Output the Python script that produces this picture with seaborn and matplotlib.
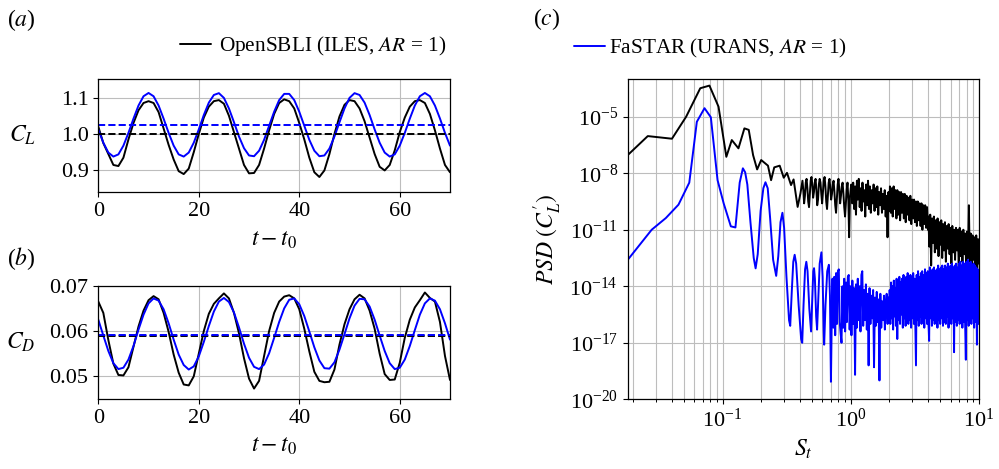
import numpy as np
import matplotlib
matplotlib.use("Agg")
import matplotlib.pyplot as plt
import seaborn as sns
from matplotlib.ticker import LogLocator, NullLocator, FixedLocator
from matplotlib.lines import Line2D

# ---------------- data ----------------
time = np.arange(0, 71)

cl_opensbli = [1.020, 0.975, 0.945, 0.915, 0.912, 0.935, 0.985, 1.030, 1.065, 1.085,
               1.090, 1.085, 1.060, 1.015, 0.970, 0.930, 0.898, 0.890, 0.905, 0.950,
               1.000, 1.045, 1.075, 1.090, 1.093, 1.083, 1.050, 1.005, 0.960, 0.915,
               0.892, 0.893, 0.915, 0.960, 1.010, 1.055, 1.085, 1.095, 1.090, 1.070,
               1.030, 0.985, 0.935, 0.895, 0.882, 0.900, 0.945, 1.000, 1.048, 1.080,
               1.093, 1.090, 1.070, 1.035, 0.990, 0.945, 0.910, 0.900, 0.915, 0.955,
               1.005, 1.045, 1.075, 1.090, 1.093, 1.085, 1.055, 1.010, 0.960, 0.915,
               0.895]
cl_fastar = [1.0125, 0.976, 0.949, 0.938, 0.944, 0.968, 1.003, 1.042, 1.078, 1.1035,
             1.1125, 1.1035, 1.078, 1.042, 1.003, 0.968, 0.944, 0.938, 0.949, 0.976,
             1.0125, 1.052, 1.086, 1.107, 1.112, 1.099, 1.070, 1.0325, 0.993, 0.961,
             0.941, 0.939, 0.954, 0.984, 1.0225, 1.061, 1.093, 1.110, 1.110, 1.093,
             1.061, 1.0225, 0.984, 0.954, 0.939, 0.941, 0.960, 0.993, 1.032, 1.070,
             1.099, 1.112, 1.107, 1.086, 1.052, 1.0125, 0.976, 0.949, 0.938, 0.944,
             0.968, 1.003, 1.042, 1.078, 1.1035, 1.1125, 1.1035, 1.078, 1.0425, 1.003,
             0.968]
cd_opensbli = [0.0665, 0.0640, 0.0580, 0.0528, 0.0503, 0.0502, 0.0520, 0.0565, 0.0610, 0.0645,
               0.0668, 0.0677, 0.0670, 0.0640, 0.0598, 0.0548, 0.0508, 0.0482, 0.0480, 0.0500,
               0.0550, 0.0600, 0.0638, 0.0660, 0.0672, 0.0683, 0.0672, 0.0640, 0.0595, 0.0540,
               0.0495, 0.0473, 0.0490, 0.0545, 0.0600, 0.0640, 0.0665, 0.0676, 0.0679, 0.0672,
               0.0648, 0.0605, 0.0555, 0.0510, 0.0490, 0.0487, 0.0488, 0.0515, 0.0570, 0.0615,
               0.0648, 0.0670, 0.0680, 0.0672, 0.0645, 0.0605, 0.0550, 0.0505, 0.0492, 0.0493,
               0.0530, 0.0585, 0.0625, 0.0652, 0.0668, 0.0685, 0.0673, 0.0665, 0.0620, 0.0545,
               0.0492]
cd_fastar = [0.0625, 0.0590, 0.0556, 0.0529, 0.0516, 0.0519, 0.0537, 0.0567, 0.0603, 0.0636,
             0.0661, 0.0672, 0.0667, 0.0648, 0.0617, 0.0581, 0.0548, 0.0525, 0.0515, 0.0522,
             0.0544, 0.0576, 0.0611, 0.0643, 0.0665, 0.0673, 0.0664, 0.0641, 0.0608, 0.0572,
             0.0541, 0.0521, 0.0516, 0.0526, 0.0551, 0.0585, 0.0620, 0.0650, 0.0669, 0.0672,
             0.0659, 0.0633, 0.0599, 0.0564, 0.0535, 0.0518, 0.0517, 0.0531, 0.0559, 0.0593,
             0.0628, 0.0656, 0.0671, 0.0670, 0.0654, 0.0625, 0.0590, 0.0556, 0.0529, 0.0516,
             0.0519, 0.0537, 0.0567, 0.0602, 0.0636, 0.0661, 0.0672, 0.0667, 0.0648, 0.0617,
             0.0581]
cl_mean_opensbli = 0.999
cl_mean_fastar = 1.0245
cd_mean_opensbli = 0.0588
cd_mean_fastar = 0.0592

# PSD (log10 values)
psd_black_f_low = [0.0182, 0.0261, 0.0403, 0.052, 0.067, 0.079, 0.093, 0.107, 0.118, 0.133,
                   0.148, 0.160, 0.173, 0.186, 0.200, 0.226, 0.239, 0.253, 0.279, 0.300,
                   0.318, 0.342, 0.358, 0.385, 0.405]
psd_black_low = [-7.04, -6.03, -6.17, -5.0, -3.49, -3.35, -4.47, -7.13, -6.24, -6.68,
                 -5.62, -5.70, -7.04, -7.80, -7.30, -7.60, -8.37, -7.69, -7.60, -8.24,
                 -7.98, -8.63, -8.33, -9.79, -9.07]
psd_black_a = [-8.4, -8.9, -9.6, -9.2, -8.5, -8.3, -8.8, -9.5, -9.8, -9.1,
               -8.4, -8.2, -8.6, -9.3, -9.0, -8.5, -8.3, -8.9, -9.7, -9.4,
               -8.6, -8.3, -8.5, -9.1, -9.6, -9.0, -8.4, -8.2, -8.7, -9.5,
               -9.9, -9.2, -8.5, -8.3, -8.8, -9.4, -9.1, -8.6, -8.4, -9.0,
               -9.7, -10.1, -9.3, -8.6, -8.3, -8.9, -9.6, -9.2, -8.7, -8.5,
               -9.1, -9.8, -10.3, -9.6, -8.9, -8.5, -9.4, -11.4, -9.3, -8.8]
psd_black_b = [-8.6, -9.6, -8.5, -9.9, -8.7, -10.2, -8.4, -9.4, -8.3, -9.8,
               -8.8, -10.0, -8.5, -9.5, -8.9, -10.3, -8.6, -9.7, -8.4, -9.9,
               -8.7, -10.1, -8.9, -9.6, -8.6, -10.0, -8.8, -9.8, -8.7, -10.2,
               -9.0, -9.7, -8.8, -10.1, -9.1, -9.9, -8.9, -10.3, -9.2, -11.4,
               -9.0, -10.0]
psd_black_c = [-8.7, -10.1, -8.8, -10.3, -8.7, -9.9, -8.9, -10.4, -8.9, -10.2,
               -9.0, -10.5, -9.0, -10.1, -9.1, -10.4, -9.1, -10.6, -9.2, -10.2,
               -9.3, -10.5, -9.2, -10.7, -9.4, -10.4, -9.4, -10.6, -9.5, -10.8,
               -9.5, -10.5, -9.6, -10.8, -9.6, -11.0, -9.7, -10.7, -9.7, -10.9,
               -9.8, -11.0]
psd_black_d = [-10.3, -11.9, -10.2, -12.9, -10.4, -11.7, -10.3, -12.2, -10.5, -12.0,
               -10.4, -12.4, -10.6, -11.8, -10.5, -12.5, -10.7, -12.1, -10.6, -12.7,
               -10.8, -12.0, -10.7, -12.3, -10.9, -12.8, -10.8, -12.2, -11.0, -12.6,
               -10.9, -12.1, -11.0, -13.0, -10.9, -12.4, -11.1, -12.7, -11.0, -12.3,
               -11.2, -12.9, -11.1, -12.5, -9.7, -12.7, -11.2, -13.0, -11.3, -12.6,
               -11.4, -12.9, -11.3, -13.3, -11.5, -12.8]

psd_blue_f_low = [0.0182, 0.028, 0.0361, 0.0453, 0.055, 0.063, 0.0723, 0.081, 0.0914, 0.102,
                  0.116, 0.126, 0.136, 0.144, 0.150, 0.156, 0.165, 0.175, 0.181, 0.188,
                  0.198, 0.208, 0.216, 0.225, 0.235, 0.248, 0.262, 0.272, 0.283, 0.293,
                  0.302, 0.315, 0.330, 0.337, 0.347, 0.356, 0.365, 0.375, 0.392, 0.410,
                  0.418, 0.428, 0.440, 0.450, 0.460, 0.475, 0.490, 0.500, 0.510, 0.517,
                  0.525, 0.537, 0.546, 0.558, 0.572, 0.590, 0.603, 0.615, 0.620, 0.635,
                  0.655, 0.675, 0.688, 0.700, 0.712]
psd_blue_low = [-12.6, -11.0, -10.38, -9.67, -8.5, -5.27, -4.55, -5.03, -8.37, -9.6,
                -10.82, -10.88, -8.5, -7.74, -7.95, -8.6, -10.6, -12.5, -13.05, -12.3,
                -10.0, -8.8, -8.48, -8.8, -10.4, -12.6, -13.45, -12.4, -10.6, -10.1,
                -10.9, -13.5, -15.8, -16.1, -14.2, -12.7, -12.33, -12.8, -15.0, -16.8,
                -17.0, -15.0, -13.1, -12.7, -13.2, -15.2, -16.4, -14.8, -13.2, -13.04,
                -13.6, -15.6, -16.3, -14.6, -12.8, -12.2, -13.5, -16.4, -17.1, -15.0,
                -13.2, -12.86, -14.5, -19.07, -15.2]
psd_blue_b = [-13.6, -16.2, -13.5, -16.6, -13.3, -16.0, -13.2, -13.1, -15.9, -16.5,
              -17.0, -14.0, -16.2, -13.6, -16.4, -13.8, -15.9, -13.5, -13.4, -16.3,
              -14.0, -16.6, -13.7, -16.0, -14.1, -18.7, -13.9, -16.2, -13.6, -15.8,
              -14.0, -16.4, -13.4, -13.2, -16.1, -14.2, -15.8, -13.9, -16.3, -14.4,
              -18.2, -14.1, -16.0, -14.5, -15.7, -14.2, -18.3, -14.6, -16.1, -14.3,
              -15.9, -14.7, -19.0, -14.4, -16.2, -14.8, -15.8, -14.5, -16.3, -14.9,
              -14.4, -16.0, -14.6, -15.7]
psd_blue_c = [-14.2, -16.0, -13.8, -15.7, -14.0, -16.3, -13.7, -15.6, -14.1, -16.1,
              -13.6, -16.8, -13.9, -15.8, -13.5, -16.0, -13.8, -15.5, -13.6, -16.2,
              -13.4, -15.7, -13.7, -16.1, -13.5, -15.6, -13.3, -16.0, -13.6, -15.8,
              -13.4, -16.2, -13.5, -15.7, -13.3, -16.0, -13.6, -15.9, -18.2, -13.4,
              -15.8, -13.2, -16.1, -13.5, -15.6, -13.3, -16.0, -13.2, -15.8, -13.4,
              -16.2, -13.1, -15.7, -13.3, -16.0, -13.2, -15.9, -16.9, -13.0, -15.7,
              -13.2, -16.1, -13.1, -15.8, -13.0, -16.0, -13.2, -15.6, -13.1, -16.2,
              -12.9, -15.8, -13.1, -16.0, -13.0, -15.7, -12.9, -16.1, -13.1, -15.9,
              -12.9, -16.0, -13.0, -15.6, -12.8, -16.2, -13.0, -15.8, -12.9, -16.0,
              -12.8, -15.7, -13.0, -17.5, -12.9, -15.9, -12.8, -16.1, -13.0, -15.8,
              -12.8, -16.0, -12.7, -15.7, -12.9, -16.2, -12.7, -15.9, -12.8, -16.0,
              -17.9, -12.7, -15.8, -12.6, -16.1, -12.8, -15.9, -12.7, -16.0, -12.9,
              -15.7, -12.8, -16.2, -12.9, -15.9, -13.0, -17.1, -13.1, -16.0, -13.4]

# frequency grids of the dense parts
black_f = np.concatenate([psd_black_f_low,
                          np.geomspace(0.42, 1.0, len(psd_black_a)),
                          np.geomspace(1.01, 2.0, len(psd_black_b)),
                          np.geomspace(2.02, 4.0, len(psd_black_c)),
                          np.geomspace(4.03, 10.0, len(psd_black_d))])
black_psd = 10.0 ** np.concatenate([psd_black_low, psd_black_a, psd_black_b,
                                    psd_black_c, psd_black_d])
blue_f = np.concatenate([psd_blue_f_low,
                         np.geomspace(0.72, 2.0, len(psd_blue_b)),
                         np.geomspace(2.01, 10.0, len(psd_blue_c))])
blue_psd = 10.0 ** np.concatenate([psd_blue_low, psd_blue_b, psd_blue_c])

# ---------------- style ----------------
sns.set_theme(style="whitegrid")
plt.rcParams.update({
    'font.family': ['Liberation Serif', 'DejaVu Serif'],
    'mathtext.fontset': 'stix',
    'axes.edgecolor': 'black',
    'axes.linewidth': 0.9,
    'grid.color': '#bdbdbd',
    'grid.linewidth': 0.8,
    'xtick.bottom': True, 'ytick.left': True,
    'xtick.direction': 'out', 'ytick.direction': 'out',
    'xtick.color': 'black', 'ytick.color': 'black',
    'xtick.major.size': 3.5, 'ytick.major.size': 3.5,
    'xtick.minor.size': 2.0, 'ytick.minor.size': 2.0,
    'xtick.major.width': 0.8, 'ytick.major.width': 0.8,
    'xtick.minor.width': 0.7,
    'xtick.labelsize': 16, 'ytick.labelsize': 16,
    'axes.labelsize': 17,
    'text.color': 'black', 'axes.labelcolor': 'black',
})

W, H = 999, 469
fig = plt.figure(figsize=(W / 100, H / 100), dpi=100)

def box(x0, y0, x1, y1):
    return [x0 / W, 1 - y1 / H, (x1 - x0) / W, (y1 - y0) / H]

ax_a = fig.add_axes(box(98.3, 79.3, 450, 192.3))
ax_b = fig.add_axes(box(98.3, 285.7, 450, 399))
ax_c = fig.add_axes(box(627.7, 79, 979, 399.3))

LW = 1.4
BLUE = '#0000ff'

# (a)
sns.lineplot(x=time, y=cl_opensbli, ax=ax_a, color='black', linewidth=LW)
sns.lineplot(x=time, y=cl_fastar, ax=ax_a, color=BLUE, linewidth=LW)
ax_a.axhline(cl_mean_opensbli, color='black', ls='--', lw=LW)
ax_a.axhline(cl_mean_fastar, color=BLUE, ls='--', lw=LW)
ax_a.set_xlim(0, 70)
ax_a.set_ylim(0.84, 1.15)
ax_a.set_xticks([0, 20, 40, 60])
ax_a.set_yticks([0.9, 1.0, 1.1])
ax_a.set_xlabel(r'$t - t_0$', labelpad=6)
ax_a.set_ylabel(r'$C_L$', rotation=0, ha='center', va='center')
ax_a.yaxis.set_label_coords(-0.215, 0.5)

# (b)
sns.lineplot(x=time, y=cd_opensbli, ax=ax_b, color='black', linewidth=LW)
sns.lineplot(x=time, y=cd_fastar, ax=ax_b, color=BLUE, linewidth=LW)
ax_b.axhline(cd_mean_opensbli, color='black', ls='--', lw=LW)
ax_b.axhline(cd_mean_fastar, color=BLUE, ls='--', lw=LW)
ax_b.set_xlim(0, 70)
ax_b.set_ylim(0.045, 0.07)
ax_b.set_xticks([0, 20, 40, 60])
ax_b.set_yticks([0.05, 0.06, 0.07])
ax_b.set_xlabel(r'$t - t_0$', labelpad=6)
ax_b.set_ylabel(r'$C_D$', rotation=0, ha='center', va='center')
ax_b.yaxis.set_label_coords(-0.22, 0.5)

# (c)
ax_c.set_xscale('log')
ax_c.set_yscale('log')
sns.lineplot(x=black_f, y=black_psd, ax=ax_c, color='black', linewidth=LW, sort=False)
sns.lineplot(x=blue_f, y=blue_psd, ax=ax_c, color=BLUE, linewidth=LW, sort=False)
ax_c.set_xlim(0.0182, 10)
ax_c.set_ylim(1e-20, 1e-3)
ax_c.yaxis.set_major_locator(FixedLocator([1e-20, 1e-17, 1e-14, 1e-11, 1e-8, 1e-5]))
ax_c.yaxis.set_minor_locator(NullLocator())
ax_c.xaxis.set_major_locator(LogLocator(base=10))
ax_c.xaxis.set_minor_locator(LogLocator(base=10, subs=np.arange(2, 10)))
ax_c.grid(True, which='major')
ax_c.grid(True, which='minor', axis='x', color='#bdbdbd', lw=0.8)
ax_c.set_xlabel(r'$S_t$', labelpad=4)
ax_c.set_ylabel(r'$PSD\ (C^{\prime}_L)$')

for ax in (ax_a, ax_b, ax_c):
    for s in ax.spines.values():
        s.set_color('black')
        s.set_linewidth(0.9)

# legends
h1 = Line2D([], [], color='black', lw=LW)
h2 = Line2D([], [], color=BLUE, lw=LW)
fig.legend([h1], [r'OpenSBLI (ILES, $AR$ = 1)'], loc='center left',
           bbox_to_anchor=(180 / W, 1 - 46 / H), frameon=False, fontsize=15.3,
           handlelength=1.45, handletextpad=0.4, borderpad=0, borderaxespad=0)
fig.legend([h2], [r'FaSTAR (URANS, $AR$ = 1)'], loc='center left',
           bbox_to_anchor=(574 / W, 1 - 48 / H), frameon=False, fontsize=15.3,
           handlelength=1.45, handletextpad=0.2, borderpad=0, borderaxespad=0)

# panel letters
fig.text(21 / W, 1 - 20 / H, r'($a$)', fontsize=17, ha='center', va='center')
fig.text(21 / W, 1 - 259 / H, r'($b$)', fontsize=17, ha='center', va='center')
fig.text(547 / W, 1 - 19 / H, r'($c$)', fontsize=17, ha='center', va='center')

fig.savefig('out.png', dpi=100)
